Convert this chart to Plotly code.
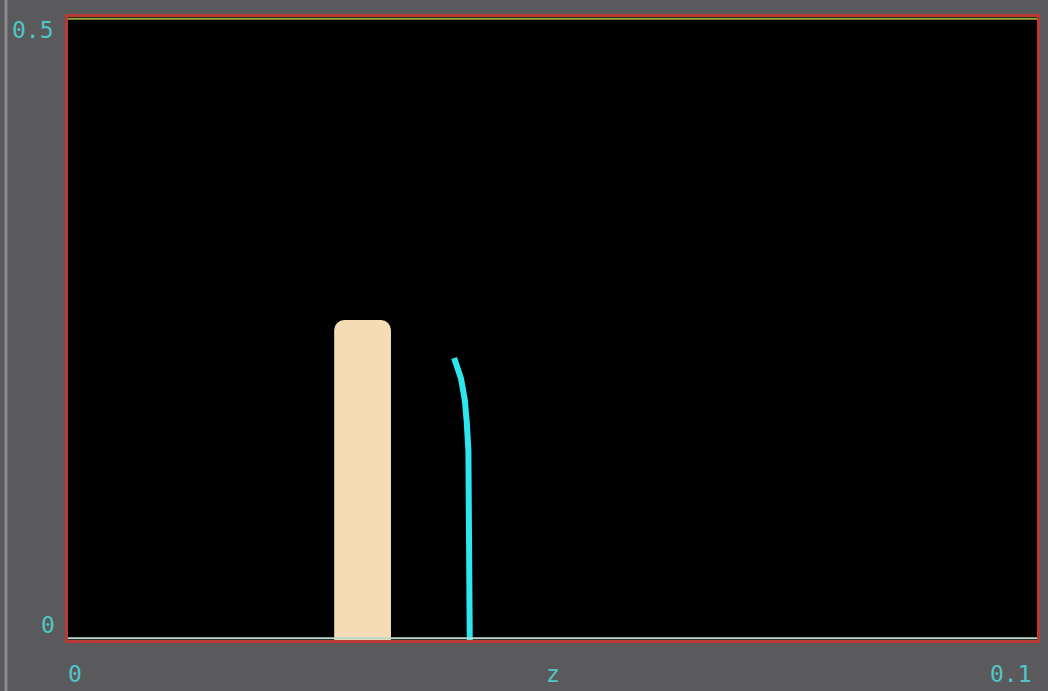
import plotly.graph_objects as go

# Data
bar_x = [0.0304]
bar_height = [0.2568]
bar_width = 0.00586

curve_x = [0.04146, 0.04146, 0.04140, 0.04132, 0.04115, 0.04095, 0.04055, 0.03985]
curve_y = [0.0, 0.10, 0.14, 0.1525, 0.175, 0.1926, 0.21, 0.2263]

xticks = [0, 0.05, 0.1]
xtick_labels = ["0", "z", "0.1"]
yticks = [0, 0.5]
ytick_labels = ["0", "0.5"]

CYAN_TXT = "#4fc6c8"
FONT = dict(family="DejaVu Sans Mono", size=23, color=CYAN_TXT)

fig = go.Figure()
fig.add_trace(go.Bar(x=bar_x, y=bar_height, width=bar_width,
                     marker=dict(color="#f6dcb4", line=dict(width=0), cornerradius=10),
                     showlegend=False, hoverinfo="skip"))
fig.add_trace(go.Scatter(x=curve_x, y=curve_y, mode="lines",
                         line=dict(color="#2ee6ee", width=6), showlegend=False, hoverinfo="skip"))

annotations = []
# x tick labels
xl_offsets = [7, 0, -26]
for v, t, dx in zip(xticks, xtick_labels, xl_offsets):
    annotations.append(dict(x=v, y=0, xref="x", yref="y", text=t, showarrow=False,
                            xshift=dx, yshift=-34, font=FONT))
# y tick labels
yl_shift = [15, -13]
yl_xshift = [-20, -35]
for v, t, dy, dx in zip(yticks, ytick_labels, yl_shift, yl_xshift):
    annotations.append(dict(x=0, y=v, xref="x", yref="y", text=t, showarrow=False,
                            xshift=dx, yshift=dy, font=FONT))

fig.update_layout(
    width=1048, height=691,
    margin=dict(l=68, r=8, t=17, b=51),
    paper_bgcolor="#5a5a5c",
    plot_bgcolor="#000000",
    annotations=annotations,
    xaxis=dict(range=[0, 0.1], showgrid=False, zeroline=False, showticklabels=False,
               showline=True, linecolor="#b83a34", linewidth=3, mirror=True, ticks=""),
    yaxis=dict(range=[0, 0.5], showgrid=False, zeroline=False, showticklabels=False,
               showline=True, linecolor="#b83a34", linewidth=3, mirror=True, ticks=""),
    shapes=[
        dict(type="line", xref="paper", yref="paper", x0=0, x1=1, y0=0.003, y1=0.003,
             line=dict(color="#b8d8cc", width=2)),
        dict(type="line", xref="paper", yref="paper", x0=0, x1=1, y0=0.997, y1=0.997,
             line=dict(color="#9aa840", width=2)),
        dict(type="line", xref="paper", yref="paper", x0=-0.064, x1=-0.064, y0=-0.1, y1=1.05,
             line=dict(color="#8a8a8c", width=3)),
    ],
)
fig.write_html("out.html", config={"displayModeBar": False},
               post_script="document.body.style.margin='0';document.body.style.background='#5a5a5c';")
